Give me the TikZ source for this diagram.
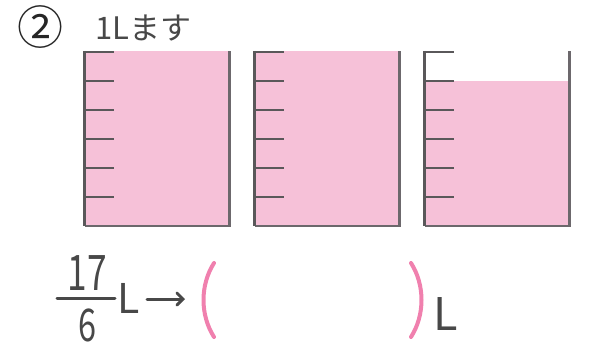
\documentclass[tikz,border=0pt]{standalone}
\usepackage{fontspec}
\usetikzlibrary{arrows.meta}
\newfontfamily\jpfont{Noto Sans CJK JP}
\newfontfamily\numfont[FakeStretch=0.72]{Noto Sans CJK JP}
\definecolor{liquid}{RGB}{246,193,216}
\definecolor{wall}{RGB}{90,88,90}
\definecolor{wallb}{RGB}{108,104,108}
\definecolor{ink}{RGB}{72,72,72}
\definecolor{paren}{RGB}{240,128,174}
\tikzset{
  wallline/.style={draw=wall, line width=2.6pt},
  tick/.style={draw=wall, line width=2.4pt},
  txt/.style={text=ink, inner sep=0pt, font=\jpfont},
  parenline/.style={draw=paren, line width=4pt, line cap=round},
}
\newcommand{\beaker}[3]{% left x, fill top y, name
  \fill[liquid] (#1,#2) rectangle (#1+145,226);
  \draw[draw=wallb, line width=2.6pt] (#1,226) -- (#1+145,226) -- (#1+145,51);
  \draw[wallline] (#1,51) -- (#1,226);
  \foreach \k in {0,...,5}{
    \draw[tick] (#1-1.2,52+29*\k) -- (#1+29,52+29*\k);
  }
  \coordinate (#3) at (#1+72.5,138);
}
\begin{document}
\begin{tikzpicture}[x=1pt,y=-1pt]
\useasboundingbox (0,0) rectangle (597,345);
% header
\node[txt, text=black!85, font=\jpfont\fontsize{46}{46}\selectfont] (num) at (40.5,27) {②};
\node[txt, anchor=base west, font=\jpfont\fontsize{31}{31}\selectfont] (title) at (95,40) {1Lます};
% beakers
\beaker{84.5}{51}{b1}
\beaker{254.5}{51}{b2}
\beaker{424.5}{81}{b3}
% fraction
\node[txt, anchor=base, text depth=0pt, font=\numfont\fontsize{49}{49}\selectfont] (numer) at (87.5,290) {17};
\node[txt, anchor=base, text depth=0pt, font=\numfont\fontsize{45}{45}\selectfont] (denom) at (87.5,341) {6};
\coordinate (barl) at (57,298);
\coordinate (barr) at (115,298);
\draw[draw=ink, line width=3pt, line cap=round] (barl) -- (barr);
\node[txt, anchor=base west, text depth=0pt, font=\jpfont\fontsize{41}{41}\selectfont] (L1) at (117,313) {L};
\coordinate (arrs) at (147,299);
\coordinate (arre) at (185,299);
\draw[draw=ink, line width=3pt, line cap=round, -{Straight Barb[length=6pt,width=12pt,line cap=round]}] (arrs) -- (arre);
% parentheses
\coordinate (lp1) at (214,263);
\coordinate (lp2) at (214,337);
\draw[parenline] (lp1) .. controls (200,285) and (200,315) .. (lp2);
\coordinate (rp1) at (411,263);
\coordinate (rp2) at (411,337);
\draw[parenline] (rp1) .. controls (425,285) and (425,315) .. (rp2);
\node[txt, anchor=base west, text depth=0pt, font=\jpfont\fontsize{45}{45}\selectfont] (L2) at (433,330) {L};
\end{tikzpicture}
\end{document}
